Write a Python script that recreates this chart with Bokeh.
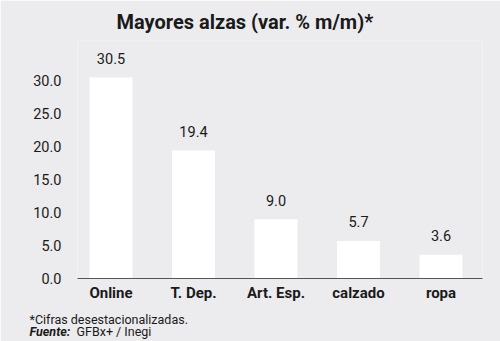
from bokeh.plotting import figure
from bokeh.models import Range1d, FixedTicker, NumeralTickFormatter, ColumnDataSource, Title
from bokeh.core.properties import value
from bokeh.embed import file_html
from bokeh.resources import INLINE

categories = ["Online", "T. Dep.", "Art. Esp.", "calzado", "ropa"]
values = [30.5, 19.4, 9.0, 5.7, 3.6]
value_labels = ["30.5", "19.4", "9.0", "5.7", "3.6"]
y_ticks = [0, 5, 10, 15, 20, 25, 30]

title_text = "Mayores alzas (var. % m/m)*"
note_text = "*Cifras desestacionalizadas."
source_bold = "Fuente:"
source_text = "GFBx+ / Inegi"

BG = "#ECECEE"
FONT = "Roboto"
INK = "#1a1a1a"

xs = list(range(len(categories)))
src = ColumnDataSource(dict(x=xs, top=values, lab=value_labels))

p = figure(width=500, height=341, output_backend="svg", toolbar_location=None,
           x_range=Range1d(-0.406, 4.503), y_range=Range1d(0, 36.1),
           min_border_left=77, min_border_right=18, min_border_top=40, min_border_bottom=63)
p.background_fill_color = BG
p.border_fill_color = BG
p.outline_line_color = None
p.xgrid.visible = False
p.ygrid.visible = False

p.title = Title(text=title_text, align="left", offset=39, text_font=FONT, text_font_style="bold",
                text_font_size="20px", text_color=INK, standoff=14)

p.vbar(x="x", top="top", width=0.52, bottom=0, source=src, fill_color="white", line_color=None)
p.text(x="x", y="top", text="lab", source=src, text_align="center", text_baseline="middle",
       y_offset=-19, text_font=value(FONT), text_font_size="14.5px", text_color=INK)

p.xaxis.ticker = FixedTicker(ticks=xs)
p.xaxis.major_label_overrides = {i: c for i, c in enumerate(categories)}
p.xaxis.major_tick_line_color = None
p.xaxis.minor_tick_line_color = None
p.xaxis.major_tick_out = 0
p.xaxis.major_tick_in = 0
p.xaxis.axis_line_color = "#555555"
p.xaxis.axis_line_width = 1
p.xaxis.major_label_text_font = FONT
p.xaxis.major_label_text_font_style = "bold"
p.xaxis.major_label_text_font_size = "15px"
p.xaxis.major_label_text_color = INK
p.xaxis.major_label_standoff = 5

p.yaxis.ticker = FixedTicker(ticks=y_ticks)
p.yaxis.formatter = NumeralTickFormatter(format="0.0")
p.yaxis.axis_line_color = None
p.yaxis.major_tick_line_color = None
p.yaxis.minor_tick_line_color = None
p.yaxis.major_label_text_font = FONT
p.yaxis.major_label_text_font_size = "14.5px"
p.yaxis.major_label_text_color = INK
p.yaxis.major_label_standoff = 10

p.add_layout(Title(text=note_text, align="left", offset=-48, text_font=FONT,
                   text_font_style="normal", text_font_size="12.5px", text_color=INK,
                   vertical_align="top", standoff=14), "below")
p.add_layout(Title(text=source_bold, align="left", offset=-48, text_font=FONT,
                   text_font_style="bold italic", text_font_size="12.5px", text_color=INK,
                   vertical_align="top", standoff=-24), "below")
p.add_layout(Title(text=source_text, align="left", offset=-1, text_font=FONT,
                   text_font_style="normal", text_font_size="12.5px", text_color=INK,
                   vertical_align="top", standoff=-24), "below")

open("out.html", "w").write(file_html(p, INLINE))
